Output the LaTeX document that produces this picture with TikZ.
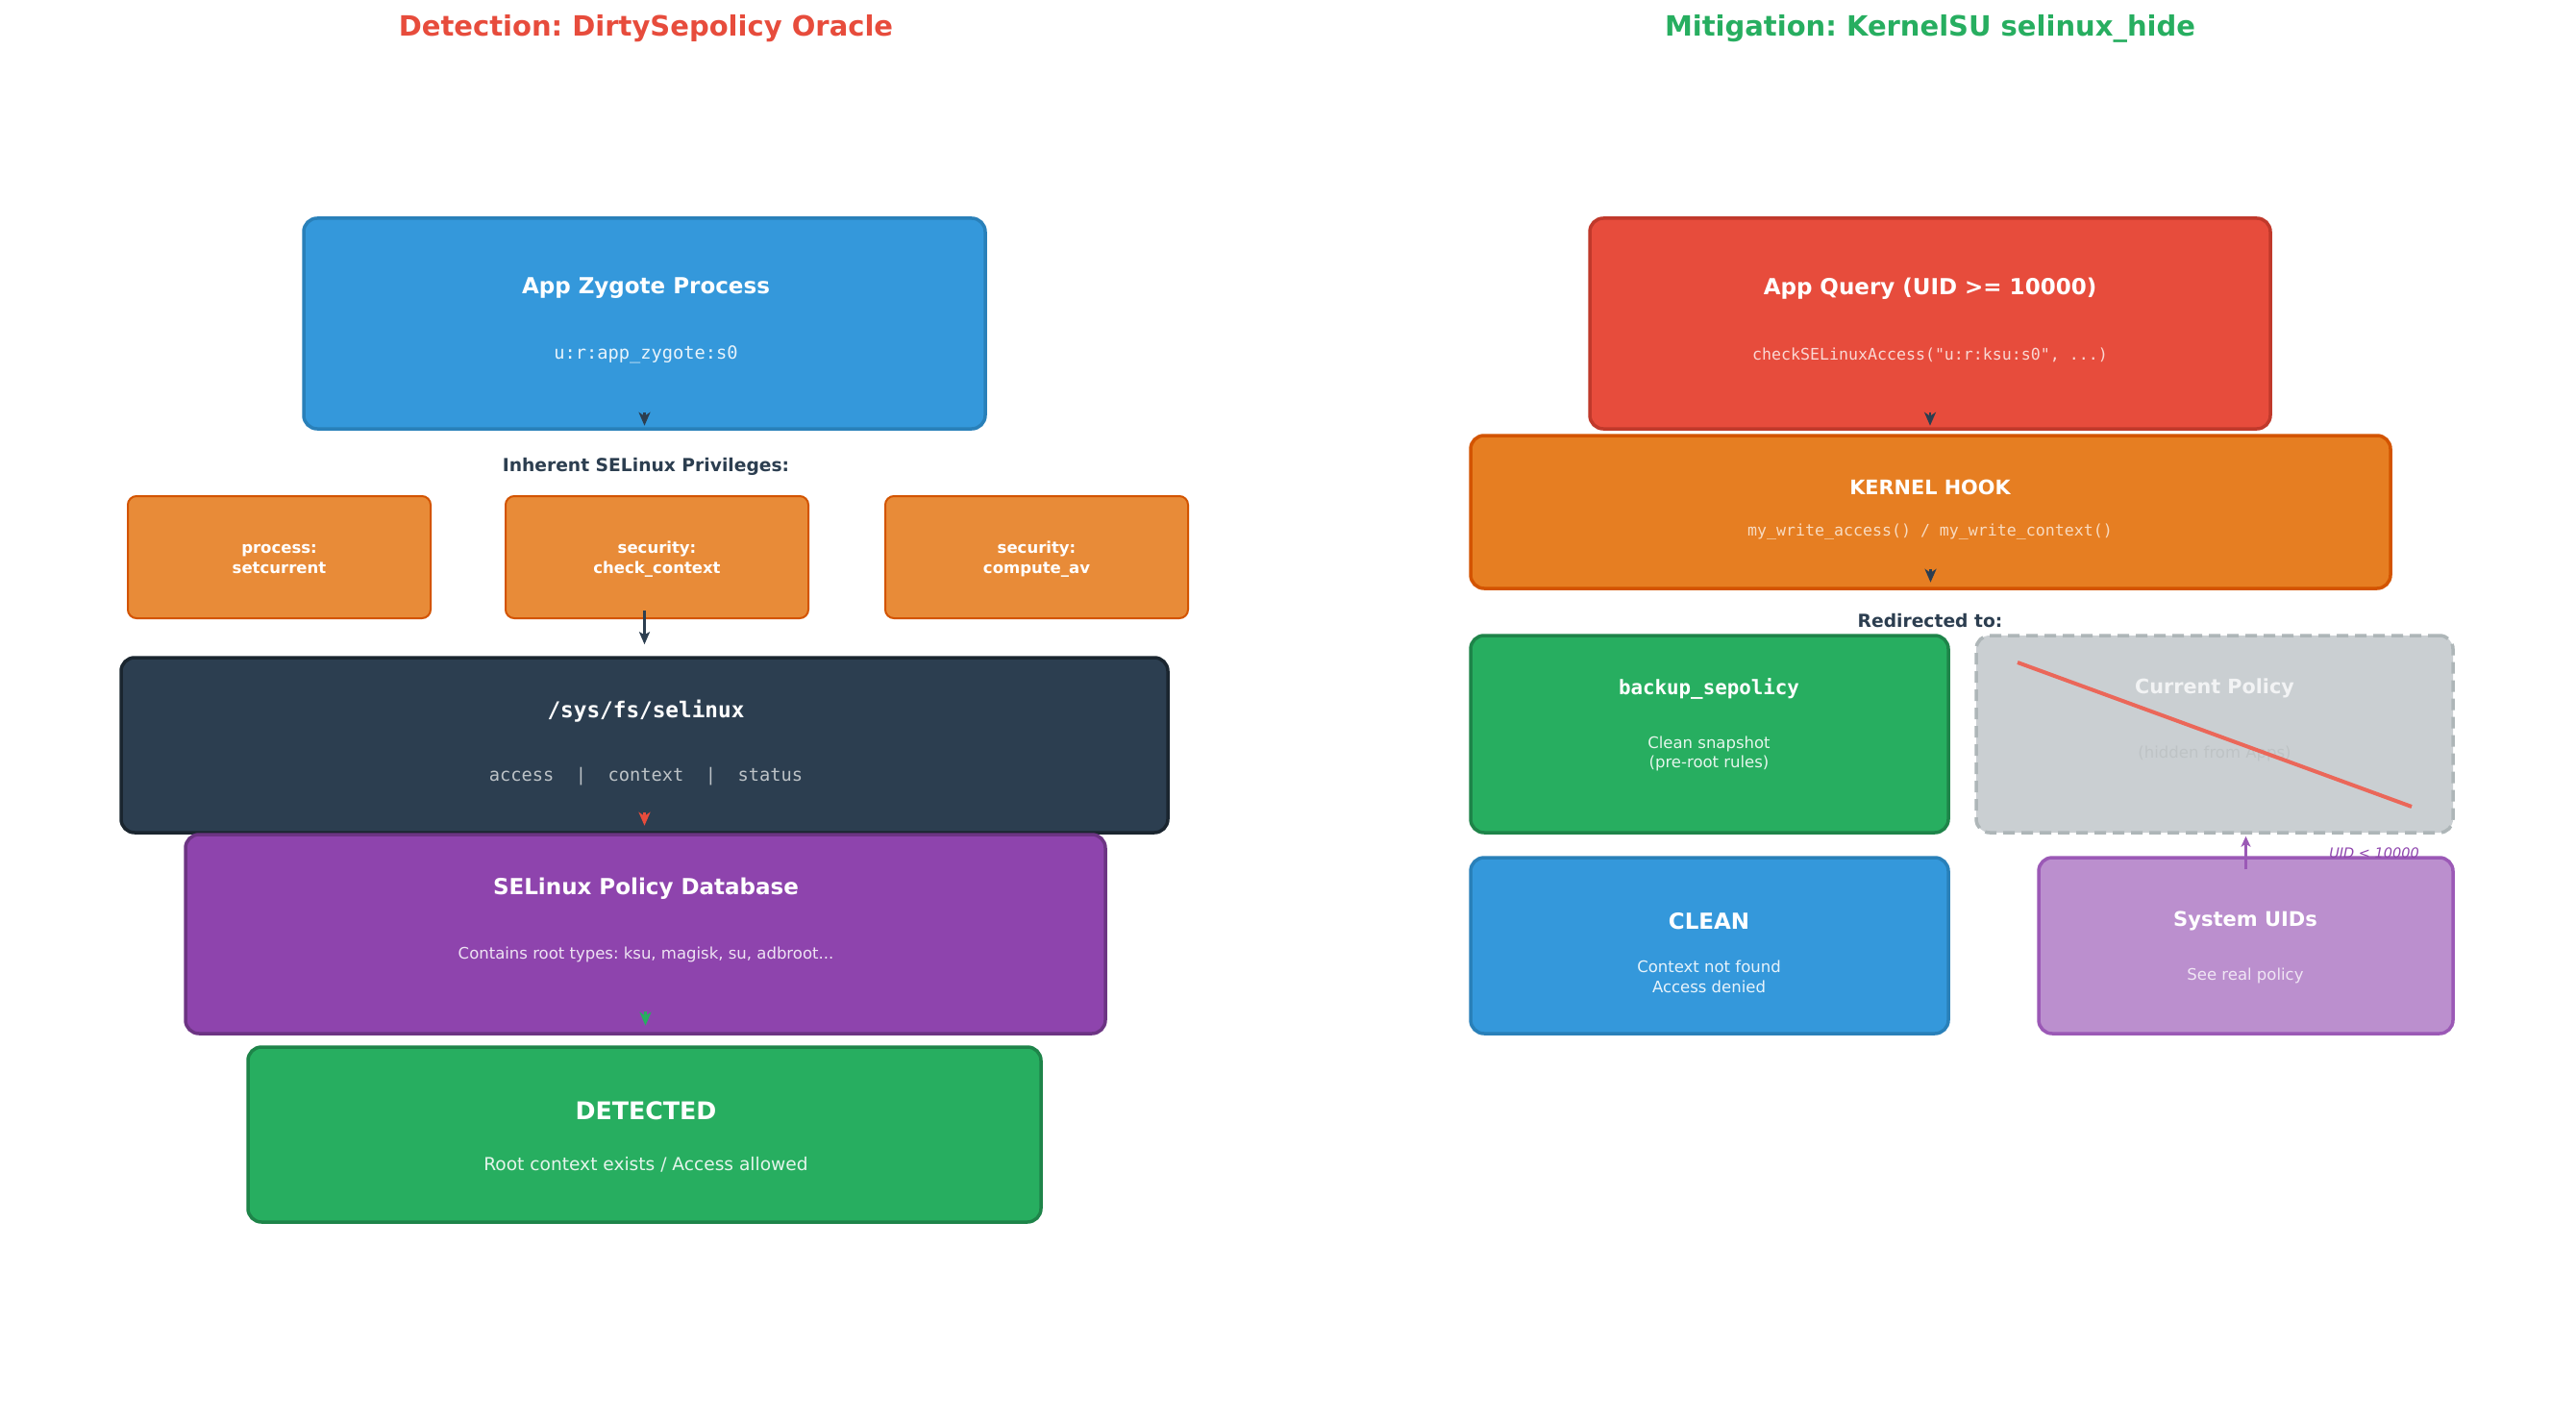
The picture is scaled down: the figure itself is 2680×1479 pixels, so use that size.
\documentclass[tikz,border=0pt]{standalone}
\usepackage{fontspec}
\setmainfont{DejaVu Sans}
\setmonofont{DejaVu Sans Mono}
\usetikzlibrary{arrows.meta,calc}
\definecolor{cblue}{HTML}{3498DB}
\definecolor{cblueD}{HTML}{2980B9}
\definecolor{corange}{HTML}{E67E22}
\definecolor{corangeD}{HTML}{D35400}
\definecolor{cdark}{HTML}{2C3E50}
\definecolor{cdarkD}{HTML}{1A252F}
\definecolor{cpurple}{HTML}{8E44AD}
\definecolor{cpurpleD}{HTML}{6C3483}
\definecolor{cgreen}{HTML}{27AE60}
\definecolor{cgreenD}{HTML}{1E8449}
\definecolor{cred}{HTML}{E74C3C}
\definecolor{credD}{HTML}{C0392B}
\definecolor{cgray}{HTML}{CACFD2}
\definecolor{cgrayD}{HTML}{AEB6B8}
\definecolor{clilac}{HTML}{BB8FCE}
\definecolor{clilacD}{HTML}{9B59B6}
\definecolor{csilver}{HTML}{BDC3C7}
\tikzset{
  box/.style={rectangle, rounded corners=14pt, line width=3.5pt, inner sep=0pt},
  smallbox/.style={rectangle, rounded corners=9pt, line width=2pt, inner sep=0pt,
    fill=corange!90!white, draw=corangeD, minimum width=315pt, minimum height=127pt},
  ttl/.style={font=\fontsize{23}{27}\selectfont\bfseries, text=white, inner sep=0pt, yshift=-3pt},
  sub/.style={font=\fontsize{16.5}{20.5}\selectfont, inner sep=0pt, align=center, yshift=-3pt},
  msub/.style={font=\fontsize{16.6}{20}\ttfamily, inner sep=0pt, align=center, yshift=-3pt},
  privtxt/.style={font=\fontsize{16.5}{20.5}\selectfont\bfseries, text=white, align=center, inner sep=0pt, yshift=-2pt},
  head/.style={line width=2.5pt, -{Stealth[length=14pt,width=12pt,inset=4pt]}},
  lbl/.style={font=\fontsize{18.7}{22}\selectfont\bfseries, text=cdark, inner sep=0pt, yshift=-3pt},
  bigttl/.style={font=\fontsize{29}{34}\selectfont\bfseries, inner sep=0pt, yshift=-3pt},
}
\begin{document}
\frenchspacing
\begin{tikzpicture}[x=1pt,y=-1pt]
\useasboundingbox (0,0) rectangle (2680,1479);
\fill[white] (0,0) rectangle (2680,1479);

% ===== Left: Detection =====
\node[bigttl, text=cred] (tL) at (672,27) {Detection: DirtySepolicy Oracle};

\node[box, fill=cblue, draw=cblueD, minimum width=709pt, minimum height=219pt] (zyg) at (670.5,336.5) {};
\node[ttl] (zygT) at (672,297) {App Zygote Process};
\node[msub, font=\fontsize{18.7}{20}\ttfamily, text=white!88!cblue] (zygS) at (672,366) {u:r:app\_zygote:s0};
\draw[head, cdark] ([yshift=19pt]zyg.south) -- ([yshift=5pt]zyg.south);

\node[lbl] (inh) at (672,482) {Inherent SELinux Privileges:};

\node[smallbox] (p1) at (290.5,579.5) {};
\node[smallbox] (p2) at (683.5,579.5) {};
\node[smallbox] (p3) at (1078.5,579.5) {};
\node[privtxt] (p1t) at (p1) {process:\\setcurrent};
\node[privtxt] (p2t) at (p2) {security:\\check\_context};
\node[privtxt] (p3t) at (p3) {security:\\compute\_av};

\node[box, fill=cdark, draw=cdarkD, minimum width=1089pt, minimum height=182pt] (sys) at (670.5,775) {};
\path (sys.north |- p2.south) coordinate (a1);
\draw[line width=3pt, cdark, -{Stealth[length=13pt,width=11pt,inset=3pt]}] ([yshift=9pt]a1) -- ([yshift=12pt]sys.north);
\node[font=\fontsize{22.7}{26}\ttfamily\bfseries, text=white, inner sep=0pt, yshift=-3pt] (sysT) at (672,737) {/sys/fs/selinux};
\node[msub, font=\fontsize{18.7}{20}\ttfamily, text=csilver] (sysS) at (672,805) {access\ \ |\ \ context\ \ |\ \ status};
\draw[head, cred] ([yshift=23pt]sys.south) -- ([yshift=9pt]sys.south);

\node[box, fill=cpurple, draw=cpurpleD, minimum width=957pt, minimum height=207pt] (db) at (671.5,971.5) {};
\node[ttl] (dbT) at (672,921) {SELinux Policy Database};
\node[sub, text=white!85!cpurple] (dbS) at (672,990) {Contains root types: ksu, magisk, su, adbroot...};
\draw[head, cgreen] ([yshift=25pt]db.south) -- ([yshift=10pt]db.south);

\node[box, fill=cgreen, draw=cgreenD, minimum width=825pt, minimum height=182pt] (det) at (670.5,1180) {};
\node[ttl, font=\fontsize{25.3}{30}\selectfont\bfseries] (detT) at (672,1152) {DETECTED};
\node[sub, font=\fontsize{18.6}{22}\selectfont, text=white!88!cgreen] (detS) at (672,1208) {Root context exists / Access allowed};

% ===== Right: Mitigation =====
\node[bigttl, text=cgreen] (tR) at (2008,27) {Mitigation: KernelSU selinux\_hide};

\node[box, fill=cred, draw=credD, minimum width=708pt, minimum height=219pt] (qry) at (2008,336.5) {};
\node[ttl] (qryT) at (2008,297) {App Query (UID >= 10000)};
\node[msub, text=white!78!cred] (qryS) at (2008,366) {checkSELinuxAccess("u:r:ksu:s0", ...)};
\draw[head, cdark] ([yshift=19pt]qry.south) -- ([yshift=5pt]qry.south);

\node[box, fill=corange, draw=corangeD, minimum width=957pt, minimum height=159pt] (hook) at (2008.5,532.5) {};
\node[ttl, font=\fontsize{20.8}{24}\selectfont\bfseries] (hookT) at (2008,504) {KERNEL HOOK};
\node[msub, text=white!72!corange] (hookS) at (2008,550) {my\_write\_access() / my\_write\_context()};
\draw[head, cdark] ([yshift=22pt]hook.south) -- ([yshift=8pt]hook.south);

\node[lbl] (red) at (2008,643) {Redirected to:};

\node[box, fill=cgreen, draw=cgreenD, minimum width=497pt, minimum height=205pt] (bak) at (1778.5,763.5) {};
\node[font=\fontsize{20.8}{24}\ttfamily\bfseries, text=white, inner sep=0pt, yshift=-3pt] (bakT) at (1778,713) {backup\_sepolicy};
\node[sub, text=white!88!cgreen] (bakS) at (1778,781) {Clean snapshot\\(pre-root rules)};

\node[box, fill=cgray, draw=cgrayD, dashed, dash pattern=on 12pt off 7pt, minimum width=496pt, minimum height=205pt] (cur) at (2304,763.5) {};
\node[ttl, font=\fontsize{20.7}{24}\selectfont\bfseries, text=white!75!cgray] (curT) at (2304,713) {Current Policy};
\node[sub, text=cgray!94!black] (curS) at (2304,781) {(hidden from Apps)};
\draw[line width=4pt, cred!85!white] (2099,689) -- (2509,839);

\node[box, fill=cblue, draw=cblueD, minimum width=497pt, minimum height=183pt] (cln) at (1778.5,983.5) {};
\node[ttl, font=\fontsize{23}{27}\selectfont\bfseries] (clnT) at (1778,955) {CLEAN};
\node[sub, text=white!88!cblue] (clnS) at (1778,1013) {Context not found\\Access denied};

\node[box, fill=clilac, draw=clilacD, minimum width=431pt, minimum height=183pt] (uid) at (2336.5,983.5) {};
\node[ttl, font=\fontsize{21}{25}\selectfont\bfseries] (uidT) at (2336,955) {System UIDs};
\node[sub, text=white!78!clilac] (uidS) at (2336,1012) {See real policy};
\node[font=\fontsize{14.5}{18}\selectfont\itshape, text=cpurple, inner sep=0pt, yshift=-2pt] (uidL) at (2470,885) {UID < 10000};
\path (uid.north |- cur.south) coordinate (a2);
\draw[line width=3pt, clilacD, -{Stealth[length=11pt,width=10pt,inset=3pt]}] ([yshift=-14pt]uid.north) -- ([yshift=-2pt]a2);
\end{tikzpicture}
\end{document}
